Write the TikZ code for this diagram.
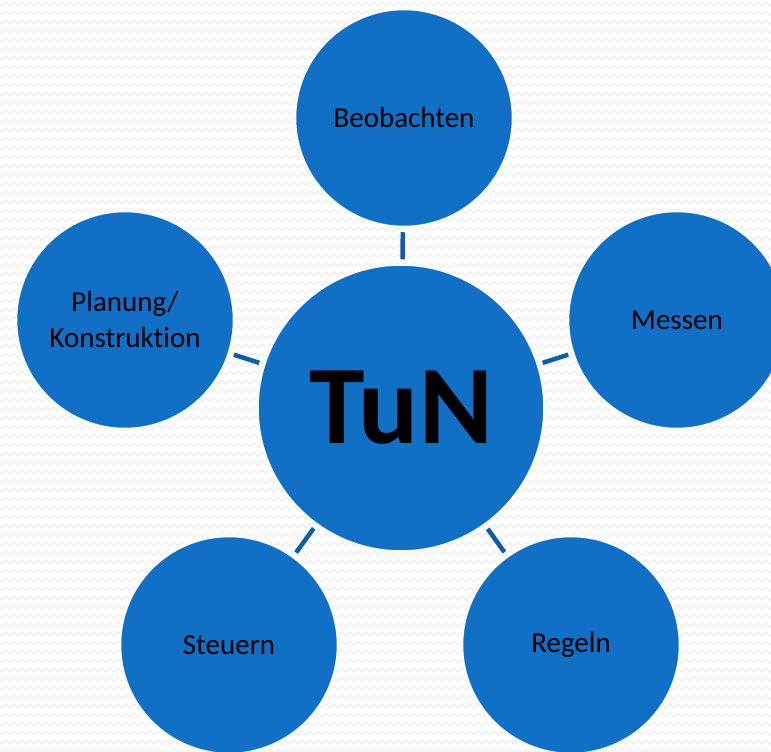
\documentclass[tikz,border=0pt]{standalone}
\usepackage{fontspec}
\setmainfont{Carlito}[Ligatures={NoCommon}]
\usetikzlibrary{decorations.pathmorphing}
\definecolor{circfill}{HTML}{1170C6}
\definecolor{linkcol}{HTML}{0F5DA5}
\definecolor{bgzig}{HTML}{EEEEEE}
\begin{document}
\begin{tikzpicture}[x=1pt,y=-1pt,
 bubble/.style={circle, fill=circfill, draw=white, line width=1.5pt, inner sep=0pt,
   minimum size=217pt, font=\fontsize{29}{36}\selectfont, text=black, align=center},
 hub/.style={bubble, minimum size=286pt, font=\fontsize{112}{112}\selectfont\bfseries},
 link/.style={draw=linkcol, line width=4.5pt, shorten <=5pt, shorten >=5pt},
 bgline/.style={draw=bgzig, line width=1.2pt, decorate,
   decoration={zigzag, segment length=8pt, amplitude=2pt}}]
\useasboundingbox (0,0) rectangle (771,752);
\clip (0,0) rectangle (771,752);
\fill[white] (0,0) rectangle (771,752);
\foreach \y in {4,13,...,760} \draw[bgline] (-4,\y) -- (775,\y);
\node[hub] (hub) at (401,408) {TuN};
\node[bubble] (obs) at (404,118) {Beobachten};
\node[bubble] (mes) at (677,320) {Messen};
\node[bubble] (pla) at (125,320) {Planung/\\Konstruktion};
\node[bubble] (ste) at (229,645) {Steuern};
\node[bubble] (reg) at (571,645) {Regeln};
\draw[link] (obs) -- (hub);
\draw[link] (mes) -- (hub);
\draw[link] (pla) -- (hub);
\draw[link] (ste) -- (hub);
\draw[link] (reg) -- (hub);
\end{tikzpicture}
\end{document}
